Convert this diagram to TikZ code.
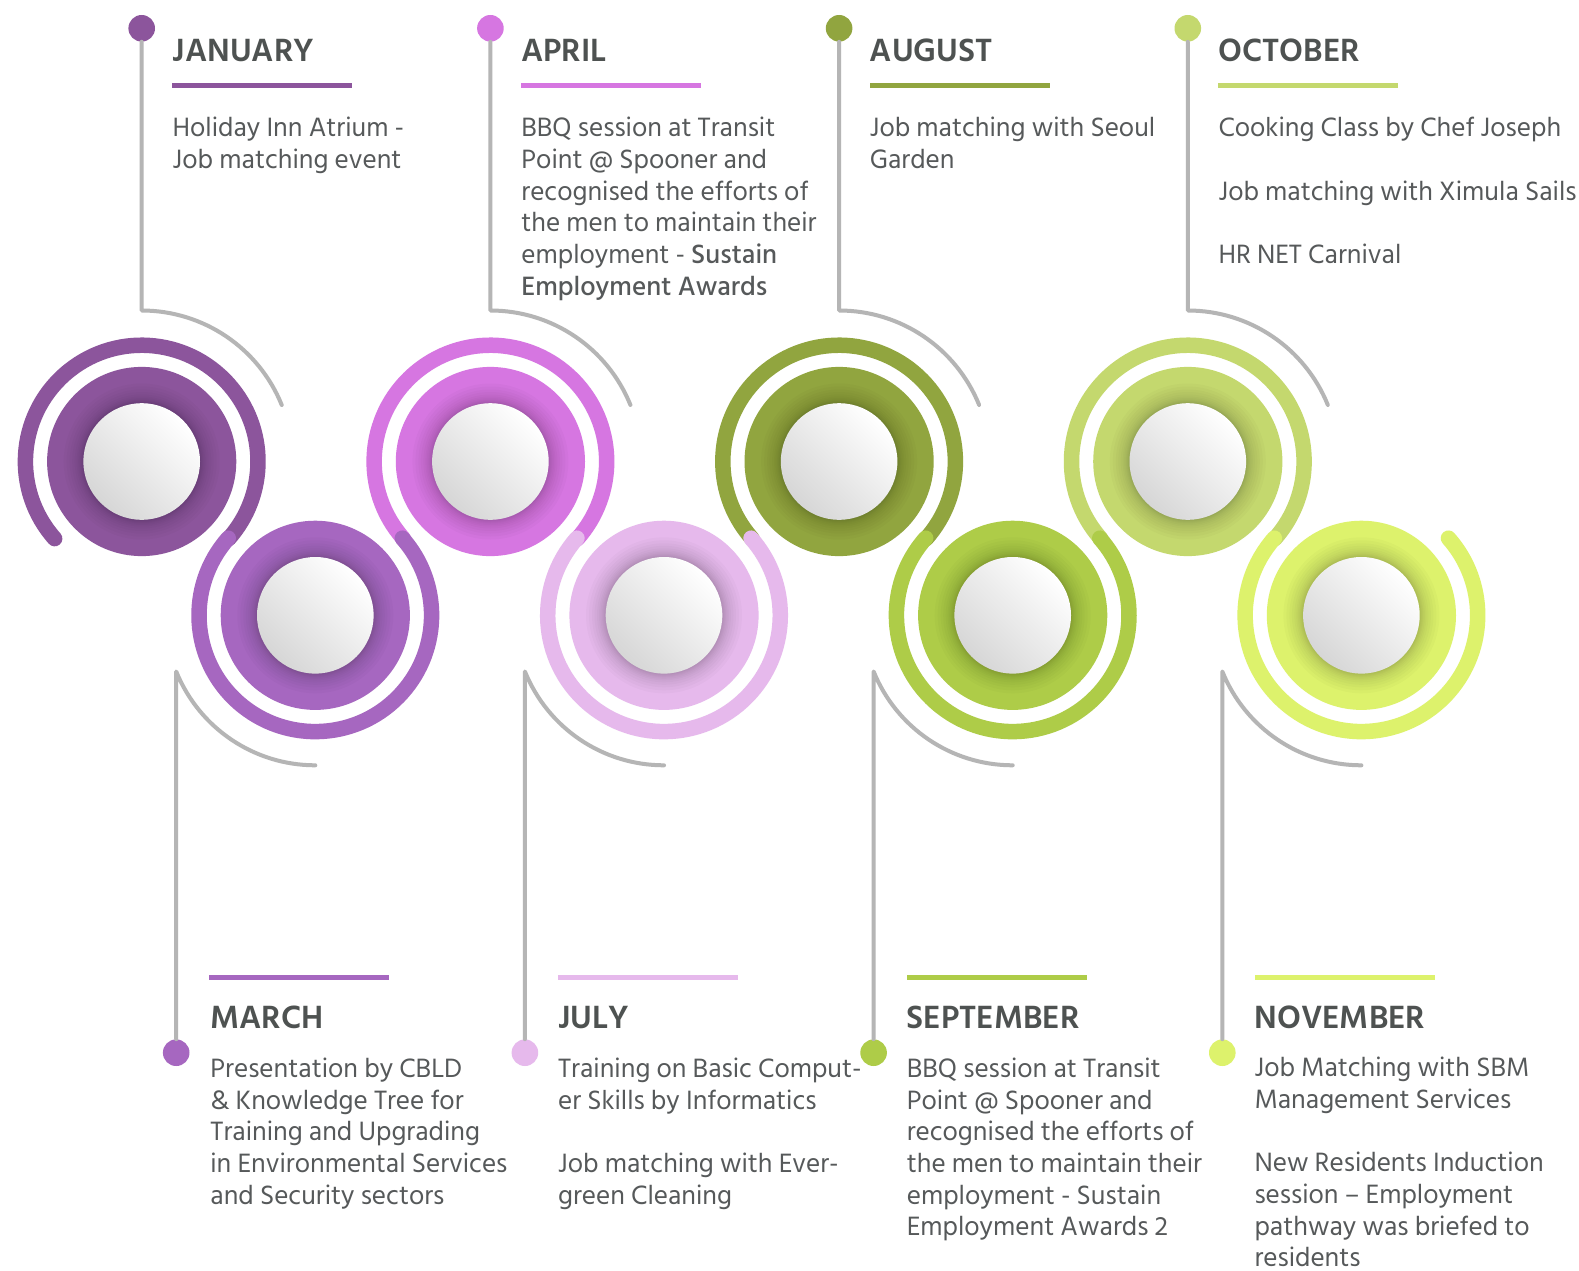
\documentclass[tikz,border=0pt]{standalone}
\usepackage{fontspec}
\setmainfont{Hind Siliguri}
\newfontfamily\medfont{Hind Siliguri Medium}
\usetikzlibrary{calc}

\definecolor{txt}{HTML}{56595A}
\definecolor{hdr}{HTML}{4E5251}
\definecolor{lineg}{HTML}{B5B5B5}
\definecolor{cJan}{HTML}{8C559C}
\definecolor{cMar}{HTML}{A667C0}
\definecolor{cApr}{HTML}{D676E1}
\definecolor{cJul}{HTML}{E6B9EC}
\definecolor{cAug}{HTML}{91A53F}
\definecolor{cSep}{HTML}{AECC48}
\definecolor{cOct}{HTML}{C4D86E}
\definecolor{cNov}{HTML}{DDF26C}

% a block of lines whose baseline is that of its first line
\newcommand{\textlines}[1]{\begin{tabular}[t]{@{}l@{}}#1\end{tabular}}

\tikzset{
  ring/.style={line width=15.5pt, line cap=round},
  gline/.style={draw=lineg, line width=4pt, line cap=round, line join=round},
  dotnode/.style={circle, inner sep=0pt, minimum size=26.6pt, draw=none},
  heading/.style={anchor=base west, inner sep=0pt, text=hdr,
    font=\fontsize{33}{38}\selectfont\bfseries},
  body/.style={anchor=base west, inner sep=0pt, text=txt,
    font=\fontsize{27.2}{31.7}\selectfont},
  halo/.style={fill=black, opacity=0.018},
}

% centre disk of one month: coloured disk, soft shadow, white button
\newcommand{\monthdisk}[2]{% #1 centre, #2 colour
  \fill[#2] (#1) circle[radius=94.6];
  \foreach \r in {78,75,72,69.5,67,65,63.5,62,61,60,59.3}{\fill[halo] (#1) circle[radius=\r];}
  \shade[top color=white, bottom color=black!16, shading angle=-45] (#1) circle[radius=58.3];
}

\begin{document}
\begin{tikzpicture}[x=1pt, y=-1pt]
\useasboundingbox (0,0) rectangle (1579,1271);
\fill[white] (0,0) rectangle (1579,1271);

% circle centres
\coordinate (cJan) at (141.7,461.5);
\coordinate (cApr) at (490.4,461.5);
\coordinate (cAug) at (839.1,461.5);
\coordinate (cOct) at (1187.8,461.5);
\coordinate (cMar) at (315.3,615.3);
\coordinate (cJul) at (664.0,615.3);
\coordinate (cSep) at (1012.7,615.3);
\coordinate (cNov) at (1361.4,615.3);

% upper rings
\foreach \m in {Jan,Apr,Aug,Oct}{
  \draw[ring, draw=c\m] ($(c\m)+(138.46:116.3)$) arc[start angle=138.46, end angle=401.54, radius=116.3];
}
% lower rings, laid over the joints
\foreach \m in {Mar,Jul,Sep,Nov}{
  \draw[ring, draw=c\m] ($(c\m)+(221.54:116.3)$) arc[start angle=221.54, end angle=-41.54, radius=116.3];
}

% disks
\foreach \m in {Jan,Apr,Aug,Oct,Mar,Jul,Sep,Nov}{
  \monthdisk{c\m}{c\m}
}

% upper pins
\foreach \m/\x in {Jan/141.7,Apr/490.4,Aug/839.1,Oct/1187.8}{
  \node[dotnode, fill=c\m] (d\m) at (\x,28.3) {};
  \coordinate (t\m) at ($(c\m)+(-90:151)$);
  \draw[gline] (d\m.south) -- (t\m) arc[start angle=-90, end angle=-22, radius=151];
  \fill[c\m] (\x+30.5,83.3) rectangle ++(180,4.5);
}
% lower pins
\foreach \m/\x in {Mar/176.2,Jul/524.9,Sep/873.6,Nov/1222.3}{
  \node[dotnode, fill=c\m] (d\m) at (\x,1052.7) {};
  \coordinate (b\m) at ($(c\m)+(158:150)$);
  \draw[gline] (d\m.north) -- (b\m) arc[start angle=158, end angle=90, radius=150];
  \fill[c\m] (\x+33,975) rectangle ++(180,4.5);
}

% upper texts
\node[heading] (hJan) at (172.5,61.7) {JANUARY};
\node[body] (tJan) at (172.5,136.7) {\textlines{Holiday Inn Atrium -\\Job matching event}};
\node[heading] (hApr) at (521.2,61.7) {APRIL};
\node[body] (tApr) at (521.2,136.7) {\textlines{BBQ session at Transit\\Point @ Spooner and\\recognised the efforts of\\the men to maintain their\\employment - {\medfont Sustain}\\{\medfont Employment Awards}}};
\node[heading] (hAug) at (869.6,61.7) {AUGUST};
\node[body] (tAug) at (869.6,136.7) {\textlines{Job matching with Seoul\\Garden}};
\node[heading] (hOct) at (1218.3,61.7) {OCTOBER};
\node[body] (tOct) at (1218.3,136.7) {\textlines{Cooking Class by Chef Joseph\\[31.7pt]Job matching with Ximula Sails\\[31.7pt]HR NET Carnival}};

% lower texts
\node[heading] (hMar) at (210.2,1028.3) {MARCH};
\node[body] (tMar) at (210.2,1077.3) {\textlines{Presentation by CBLD\\\& Knowledge Tree for\\Training and Upgrading\\in Environmental Services\\and Security sectors}};
\node[heading] (hJul) at (557.9,1028.3) {JULY};
\node[body] (tJul) at (557.9,1077.3) {\textlines{Training on Basic Comput-\\er Skills by Informatics\\[31.7pt]Job matching with Ever-\\green Cleaning}};
\node[heading] (hSep) at (906.6,1028.3) {SEPTEMBER};
\node[body] (tSep) at (906.6,1077.3) {\textlines{BBQ session at Transit\\Point @ Spooner and\\recognised the efforts of\\the men to maintain their\\employment - Sustain\\Employment Awards 2}};
\node[heading] (hNov) at (1254.3,1028.3) {NOVEMBER};
\node[body] (tNov) at (1254.3,1076.5) {\textlines{Job Matching with SBM\\Management Services\\[31.7pt]New Residents Induction\\session – Employment\\pathway was briefed to\\residents}};
\end{tikzpicture}
\end{document}
